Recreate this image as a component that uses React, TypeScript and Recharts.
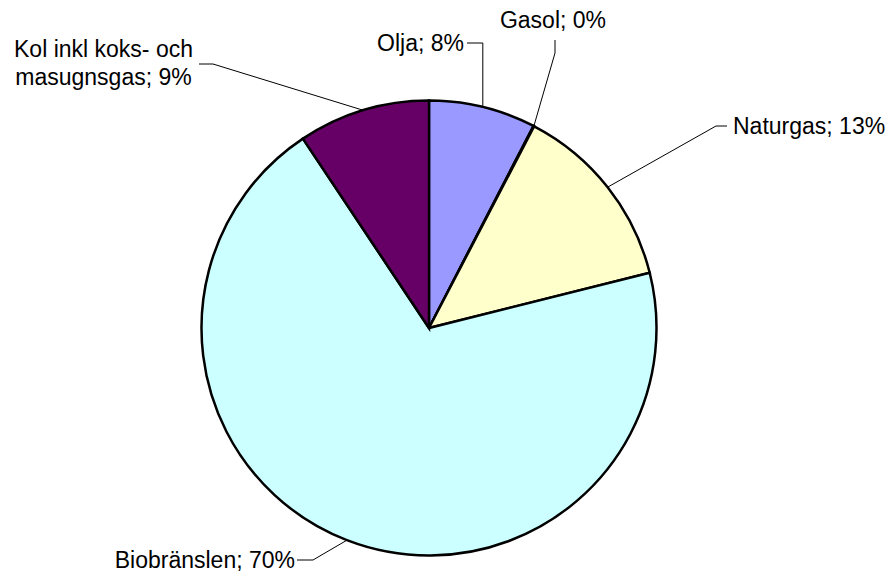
import React from "react";
import { PieChart, Pie, Cell } from "recharts";

const categories = ["Olja", "Gasol", "Naturgas", "Biobränslen", "Kol inkl koks- och masugnsgas"];
const values = [7.6, 0.05, 13.45, 69.55, 9.35];
const pctLabels = ["8%", "0%", "13%", "70%", "9%"];
const colors = ["#9999FF", "#993366", "#FFFFCC", "#CCFFFF", "#660066"];

const data = categories.map((name, i) => ({ name, value: values[i], pct: pctLabels[i] }));

// label layout relative to the pie centre: elbow point, end of leader, text anchor
type Layout = {
  elbow: [number, number] | null;
  end: [number, number];
  text: [number, number];
  anchor: "start" | "middle" | "end";
  lines: (name: string, pct: string) => string[];
  verticalFromArc?: boolean;
};

const layouts: Layout[] = [
  { elbow: null, end: [38, -285], text: [35, -285], anchor: "end", verticalFromArc: true, lines: (n, p) => [`${n}; ${p}`] },
  { elbow: [126, -275], end: [126, -288], text: [124, -308], anchor: "middle", lines: (n, p) => [`${n}; ${p}`] },
  { elbow: [287, -202], end: [298, -202], text: [304, -202], anchor: "start", lines: (n, p) => [`${n}; ${p}`] },
  { elbow: [-116, 232], end: [-132, 232], text: [-134, 232], anchor: "end", lines: (n, p) => [`${n}; ${p}`] },
  { elbow: [-216, -264], end: [-230, -264], text: [-325.5, -265], anchor: "middle", lines: () => ["Kol inkl koks- och", "masugnsgas; 9%"] },
];

const RAD = Math.PI / 180;

const renderLabel = (props: any) => {
  const { cx, cy, midAngle, outerRadius, index } = props;
  const L = layouts[index];
  const d = data[index];
  const ax = cx + outerRadius * Math.cos(-midAngle * RAD);
  const ay = cy + outerRadius * Math.sin(-midAngle * RAD);
  let pts: [number, number][];
  if (L.verticalFromArc) {
    pts = [[ax, ay], [ax, cy + L.end[1]], [cx + L.end[0], cy + L.end[1]]];
  } else {
    pts = [[ax, ay], [cx + L.elbow![0], cy + L.elbow![1]], [cx + L.end[0], cy + L.end[1]]];
  }
  const lines = L.lines(d.name, d.pct);
  const lh = 28;
  const y0 = cy + L.text[1] - ((lines.length - 1) * lh) / 2;
  return (
    <g key={`lbl-${index}`}>
      <polyline points={pts.map((p) => p.join(",")).join(" ")} fill="none" stroke="#000" strokeWidth={1} />
      <text
        x={cx + L.text[0]}
        y={y0}
        textAnchor={L.anchor}
        dominantBaseline="central"
        fontFamily="'Liberation Sans', Arial, sans-serif"
        fontSize={23}
        fill="#000"
      >
        {lines.map((t, i) => (
          <tspan key={i} x={cx + L.text[0]} y={y0 + i * lh}>
            {t}
          </tspan>
        ))}
      </text>
    </g>
  );
};

export default function App() {
  return (
    <div style={{ width: 890, height: 574, background: "#fff" }}>
      <style>{`body{margin:0;}`}</style>
      <PieChart width={890} height={574} margin={{ top: 0, right: 0, bottom: 0, left: 0 }}>
        <Pie
          data={data}
          dataKey="value"
          nameKey="name"
          cx={429}
          cy={328}
          outerRadius={227.5}
          startAngle={90}
          endAngle={-270}
          stroke="#000"
          strokeWidth={2.5}
          isAnimationActive={false}
          labelLine={false}
          label={renderLabel}
        >
          {data.map((d, i) => (
            <Cell key={d.name} fill={colors[i]} />
          ))}
        </Pie>
      </PieChart>
    </div>
  );
}
